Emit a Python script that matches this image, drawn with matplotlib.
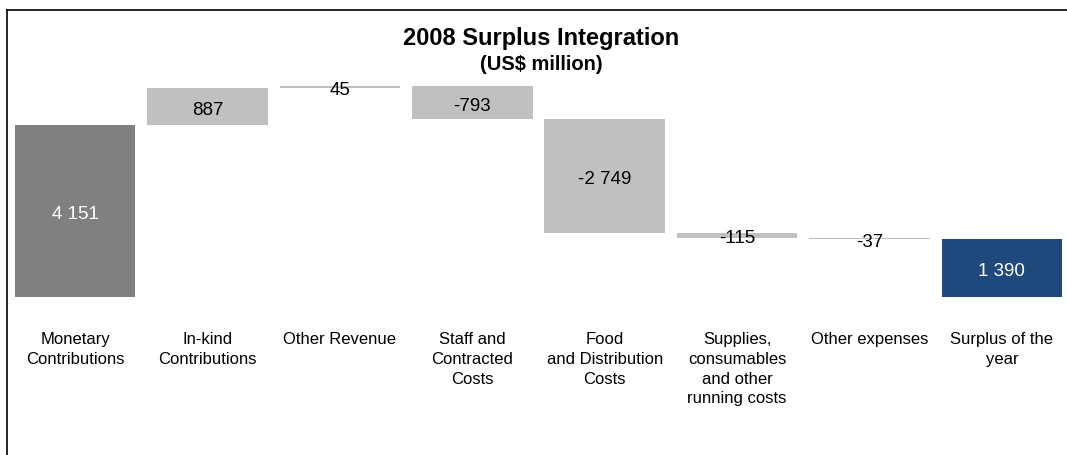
#!/usr/bin/env python
import numpy as np
import matplotlib
matplotlib.use('Agg')
import matplotlib.pyplot as plt
from matplotlib.lines import Line2D

categories = ['Monetary\nContributions', 'In-kind\nContributions', 'Other Revenue',
              'Staff and\nContracted\nCosts', 'Food\nand Distribution\nCosts',
              'Supplies,\nconsumables\nand other\nrunning costs', 'Other expenses',
              'Surplus of the\nyear']
values = [4151, 887, 45, -793, -2749, -115, -37, 1390]
# first and last bars are totals, the rest are steps
is_total = [True, False, False, False, False, False, False, True]

total_color = '#808080'
step_color = '#c0c0c0'
result_color = '#1f497d'
fam = ['Liberation Sans', 'DejaVu Sans']

W, H = 1067, 455
fig = plt.figure(figsize=(W / 100, H / 100), dpi=100)
fig.patch.set_facecolor('white')

# axes placed in pixel terms: baseline at y=297, top at y=9
ax = fig.add_axes([9 / W, (H - 297) / H, 1059 / W, 288 / H])
ax.set_xlim(-0.5, 7.5)
ax.set_ylim(0, 288 / 0.04144)
ax.axis('off')

bottoms, heights, colors = [], [], []
running = 0
for i, (v, tot) in enumerate(zip(values, is_total)):
  if tot:
    bottoms.append(0)
    heights.append(v)
    running = v
    colors.append(result_color if i == len(values) - 1 else total_color)
  else:
    bottoms.append(running + min(v, 0))
    heights.append(abs(v))
    running += v
    colors.append(step_color)

x = np.arange(len(values))
ax.bar(x, heights, bottom=bottoms, width=0.91, color=colors, linewidth=0)

for xi, v, b, h, c in zip(x, values, bottoms, heights, colors):
  txt = f'{v:,}'.replace(',', ' ')
  tc = 'white' if c in (total_color, result_color) else 'black'
  ax.annotate(txt, (xi, b + h / 2), xytext=(0, -2.5), textcoords='offset points',
              ha='center', va='center', color=tc, fontsize=13.5, family=fam)

# category labels under the bars
for xi, lab in zip(x, categories):
  ax.annotate(lab, (xi, 0), xytext=(0, -25), textcoords='offset points',
              ha='center', va='top', fontsize=12, linespacing=1.41, family=fam)

fig.text(541 / W, 1 - 38 / H, '2008 Surplus Integration', ha='center', va='center',
         fontsize=17, fontweight='bold', family=fam)
fig.text(541 / W, 1 - 64 / H, '(US$ million)', ha='center', va='center',
         fontsize=14.5, fontweight='bold', family=fam)

# frame around the chart area
bx, by = 7 / W, 1 - 9.5 / H
fig.add_artist(Line2D([bx, bx], [0, by], color='black', lw=1.2, transform=fig.transFigure))
fig.add_artist(Line2D([bx, 1], [by, by], color='black', lw=1.2, transform=fig.transFigure))

fig.savefig('out.png', dpi=100)
